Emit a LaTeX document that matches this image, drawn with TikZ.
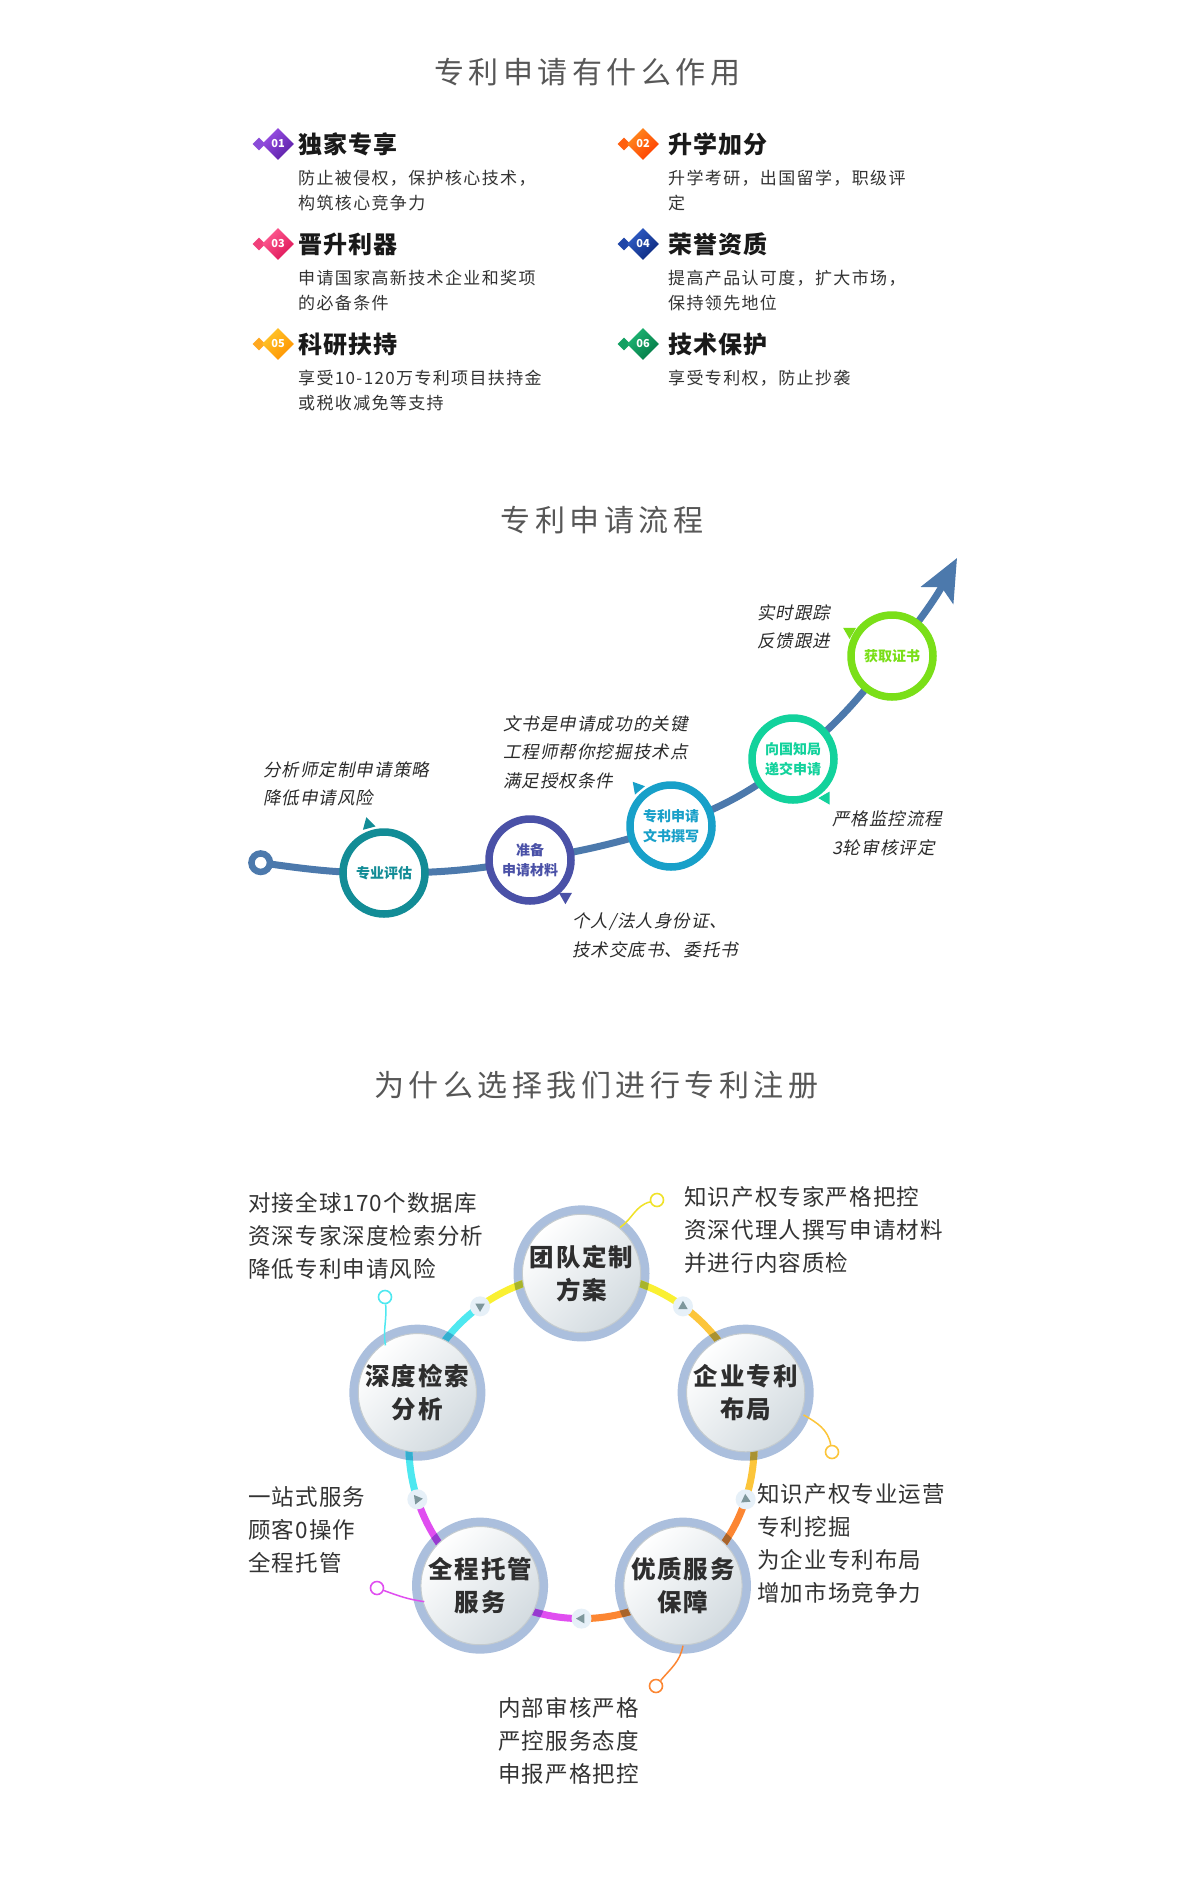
\documentclass[tikz,border=0pt]{standalone}
\usepackage{fontspec}
\setmainfont{Noto Sans CJK SC}
\newfontfamily\titlefont{Noto Sans CJK SC}[LetterSpace=15]
\newfontfamily\headfont{Noto Sans CJK SC}[LetterSpace=5]
\newfontfamily\descfont{Noto Sans CJK SC}[LetterSpace=8]
\newfontfamily\slantfont{Noto Sans CJK SC}[FakeSlant=0.2,LetterSpace=6]
\newfontfamily\bodyfont{Noto Sans CJK SC}[LetterSpace=5]
\newfontfamily\svcfont{Noto Sans CJK SC}[LetterSpace=8]
\usetikzlibrary{positioning,shapes.geometric,arrows.meta,backgrounds}

\definecolor{titlegray}{HTML}{575757}
\definecolor{bodygray}{HTML}{333333}
\definecolor{notegray}{HTML}{2B2B2B}
\definecolor{flowblue}{HTML}{4C79AC}
\definecolor{stg1}{HTML}{128C96}
\definecolor{stg2}{HTML}{4A51A7}
\definecolor{stg3}{HTML}{18A0C9}
\definecolor{stg4}{HTML}{12D29C}
\definecolor{stg5}{HTML}{7ADF18}
\definecolor{p1a}{HTML}{9A50E6}\definecolor{p1b}{HTML}{5A1FA6}\definecolor{p1s}{HTML}{8A4CD8}
\definecolor{p2a}{HTML}{FF8A1E}\definecolor{p2b}{HTML}{FF3D00}\definecolor{p2s}{HTML}{FF6010}
\definecolor{p3a}{HTML}{FF5C92}\definecolor{p3b}{HTML}{DE1558}\definecolor{p3s}{HTML}{F0407A}
\definecolor{p4a}{HTML}{2F5CC6}\definecolor{p4b}{HTML}{0E2A7E}\definecolor{p4s}{HTML}{2046A8}
\definecolor{p5a}{HTML}{FFC62A}\definecolor{p5b}{HTML}{FF9200}\definecolor{p5s}{HTML}{FFA820}
\definecolor{p6a}{HTML}{1DB574}\definecolor{p6b}{HTML}{057A46}\definecolor{p6s}{HTML}{13A062}
\definecolor{ringblue}{HTML}{ABBFDD}
\definecolor{discgray}{HTML}{D3DBE0}
\definecolor{discedge}{HTML}{C4CBCF}
\definecolor{svctext}{HTML}{2E2E2E}
\definecolor{sc1}{HTML}{FAF032}\definecolor{dk1}{HTML}{A8B42B}
\definecolor{sc2}{HTML}{FCC53A}\definecolor{dk2}{HTML}{A99232}
\definecolor{sc3}{HTML}{FC8632}\definecolor{dk3}{HTML}{A9642B}
\definecolor{sc4}{HTML}{E04EF0}\definecolor{dk4}{HTML}{963AD0}
\definecolor{sc5}{HTML}{4EE8F0}\definecolor{dk5}{HTML}{34AED0}
\definecolor{hk1}{HTML}{F0E228}
\definecolor{dotfill}{HTML}{E6F0F8}
\definecolor{trigray}{HTML}{7E979C}

\begin{document}
\begin{tikzpicture}[x=1pt,y=1pt,
  ttl/.style={font=\titlefont\fontsize{30}{36}\selectfont, text=titlegray, inner sep=0},
  icon/.style={diamond, minimum size=32, inner sep=0, text=white, font=\bfseries\fontsize{11}{12}\selectfont},
  icondot/.style={diamond, minimum size=13, inner sep=0},
  headtxt/.style={font=\headfont\bfseries\fontsize{24}{28}\selectfont, text=black!90, inner sep=0, anchor=west},
  desctxt/.style={font=\descfont\fontsize{17}{25}\selectfont, text=bodygray, inner sep=0, anchor=north west, align=left},
  stage/.style={circle, draw=#1, line width=7.5, fill=white, minimum size=82, inner sep=0, text=#1, font=\bfseries\fontsize{14}{20}\selectfont, align=center},
  pointer/.style={regular polygon, regular polygon sides=3, fill=#1, minimum size=15, inner sep=0},
  note/.style={font=\slantfont\fontsize{17.5}{28.5}\selectfont, text=notegray, inner sep=0, anchor=north west, align=left},
  flow/.style={draw=flowblue, line width=7, -{Stealth[length=42pt,width=36pt,inset=9pt]}},
  svc/.style={circle, minimum size=115, inner sep=0, draw=discedge, line width=1, top color=white, bottom color=discgray, shading angle=45, font=\svcfont\bfseries\fontsize{24.5}{33}\selectfont, text=svctext, align=center},
  arcline/.style={line width=7},
  arcdot/.style={circle, fill=dotfill, minimum size=20, inner sep=0},
  arctri/.style={regular polygon, regular polygon sides=3, fill=trigray, minimum size=11, inner sep=0},
  hook/.style={line width=1.5},
  hookend/.style={circle, draw=#1, line width=1.6, fill=white, minimum size=13, inner sep=0},
  body/.style={font=\bodyfont\fontsize{22.5}{33}\selectfont, text=bodygray, inner sep=0, anchor=north west, align=left}]
\useasboundingbox (0,0) rectangle (1190,-1884);
\begin{scope}[on background layer]
\fill[white] (0,0) rectangle (1190,-1884);
\end{scope}

% what a patent is good for
\node[ttl] (title1) at (587,-72) {专利申请有什么作用};
\foreach \n/\x/\hx/\y/\ca/\cb/\cs/\head/\desc in {
  01/278/298/144/p1a/p1b/p1s/独家专享/{防止被侵权，保护核心技术，\\构筑核心竞争力},
  02/643/668/144/p2a/p2b/p2s/升学加分/{升学考研，出国留学，职级评\\定},
  03/278/298/244/p3a/p3b/p3s/晋升利器/{申请国家高新技术企业和奖项\\的必备条件},
  04/643/668/244/p4a/p4b/p4s/荣誉资质/{提高产品认可度，扩大市场，\\保持领先地位},
  05/278/298/344/p5a/p5b/p5s/科研扶持/{享受10-120万专利项目扶持金\\或税收减免等支持},
  06/643/668/344/p6a/p6b/p6s/技术保护/{享受专利权，防止抄袭}}
{
  \node[icondot, fill=\cs] (dot\n) at (\x-19,-\y) {};
  \node[icon, top color=\ca, bottom color=\cb, shading angle=45] (icon\n) at (\x,-\y) {\n};
  \node[headtxt] (head\n) at (\hx,-\y) {\head};
  \node[desctxt] (desc\n) at (\hx,-\y-26) {\desc};
}

% application steps
\node[ttl] (title2) at (602,-520) {专利申请流程};
\node[circle, draw=flowblue, line width=6.5, minimum size=18.5, inner sep=0, fill=white] (start) at (260.7,-862.7) {};
\node[stage=stg1] (c1) at (384,-873) {专业评估};
\node[stage=stg2] (c2) at (530,-860) {准备\\申请材料};
\node[stage=stg3] (c3) at (671,-826) {专利申请\\文书撰写};
\node[stage=stg4] (c4) at (793,-759) {向国知局\\递交申请};
\node[stage=stg5] (c5) at (892,-656) {获取证书};
\coordinate (tip) at (957,-558);
\begin{scope}[on background layer]
\draw[flow] (start.center) to[out=-8,in=180] (c1.center) to[out=0,in=190] (c2.center)
  to[out=10,in=198] (c3.center) to[out=20,in=218] (c4.center)
  to[out=38,in=232] (c5.center) to[out=52,in=242] (tip);
\end{scope}
\node[pointer=stg1, rotate=15] (q1) at ([shift={(108:51)}]c1.center) {};
\node[pointer=stg2, rotate=-60] (q2) at ([shift={(-46:51)}]c2.center) {};
\node[pointer=stg3, rotate=160] (q3) at ([shift={(131:51)}]c3.center) {};
\node[pointer=stg4, rotate=-30] (q4) at ([shift={(-50:51)}]c4.center) {};
\node[pointer=stg5, rotate=180] (q5) at ([shift={(150:49)}]c5.center) {};
\node[note] (n1) at (263,-761) {分析师定制申请策略\\降低申请风险};
\node[note] (n2) at (503,-715) {文书是申请成功的关键\\工程师帮你挖掘技术点\\满足授权条件};
\node[note] (n3) at (572,-913) {个人/法人身份证、\\技术交底书、委托书};
\node[note] (n4) at (832,-811) {严格监控流程\\3轮审核评定};
\node[note] (n5) at (757,-604) {实时跟踪\\反馈跟进};

% why choose us
\node[ttl] (title3) at (596,-1085) {为什么选择我们进行专利注册};
\coordinate (ring) at (581.5,-1446);
\foreach \k/\a/\txt in {1/90/{团队定制\\方案}, 2/18/{企业专利\\布局}, 3/-54/{优质服务\\保障},
    4/-126/{全程托管\\服务}, 5/162/{深度检索\\分析}}
  \node[svc] (t\k) at ([shift={(\a:172.6)}]ring) {\txt};
\begin{scope}[on background layer]
\foreach \k in {1,...,5}
  \fill[ringblue] (t\k.center) circle[radius=68];
\foreach \k/\a in {1/90, 2/18, 3/-54, 4/-126, 5/162} {
  \draw[arcline, draw=sc\k] (t\k.center) arc[start angle=\a, end angle=\a+36, radius=172.6];
  \draw[arcline, draw=sc\k] (t\k.center) arc[start angle=\a, end angle=\a-36, radius=172.6];
  \begin{scope}
    \clip (t\k.center) circle[radius=68];
    \draw[arcline, draw=dk\k] (t\k.center) arc[start angle=\a, end angle=\a+30, radius=172.6];
    \draw[arcline, draw=dk\k] (t\k.center) arc[start angle=\a, end angle=\a-30, radius=172.6];
  \end{scope}
}
\end{scope}
\foreach \a/\r [count=\i] in {54/90, -18/-25, -90/180, 198/8, 126/270} {
  \node[arcdot] (m\i) at ([shift={(\a:172.6)}]ring) {};
  \node[arctri, rotate=\r-90] (mt\i) at (m\i) {};
}
\node[hookend=hk1] (d1) at (657,-1200) {};
\node[hookend=sc2] (d2) at (832,-1452) {};
\node[hookend=sc3] (d3) at (656,-1686) {};
\node[hookend=sc4] (d4) at (377,-1588) {};
\node[hookend=sc5] (d5) at (385,-1297) {};
\draw[hook, hk1] ([shift={(50:60)}]t1.center) to[out=35,in=195] (d1);
\draw[hook, sc2] ([shift={(-21:62)}]t2.center) to[out=-30,in=100] (d2);
\draw[hook, sc3] ([shift={(-90:60)}]t3.center) to[out=-100,in=50] (d3);
\draw[hook, sc4] ([shift={(196:58)}]t4.center) to[out=172,in=-20] (d4);
\draw[hook, sc5] ([shift={(124:57)}]t5.center) to[out=100,in=-85] (d5);
\node[body] (b1) at (684,-1186) {知识产权专家严格把控\\资深代理人撰写申请材料\\并进行内容质检};
\node[body] (b2) at (757,-1483) {知识产权专业运营\\专利挖掘\\为企业专利布局\\增加市场竞争力};
\node[body] (b3) at (498,-1697) {内部审核严格\\严控服务态度\\申报严格把控};
\node[body] (b4) at (248,-1486) {一站式服务\\顾客0操作\\全程托管};
\node[body] (b5) at (248,-1192) {对接全球170个数据库\\资深专家深度检索分析\\降低专利申请风险};
\end{tikzpicture}
\end{document}
